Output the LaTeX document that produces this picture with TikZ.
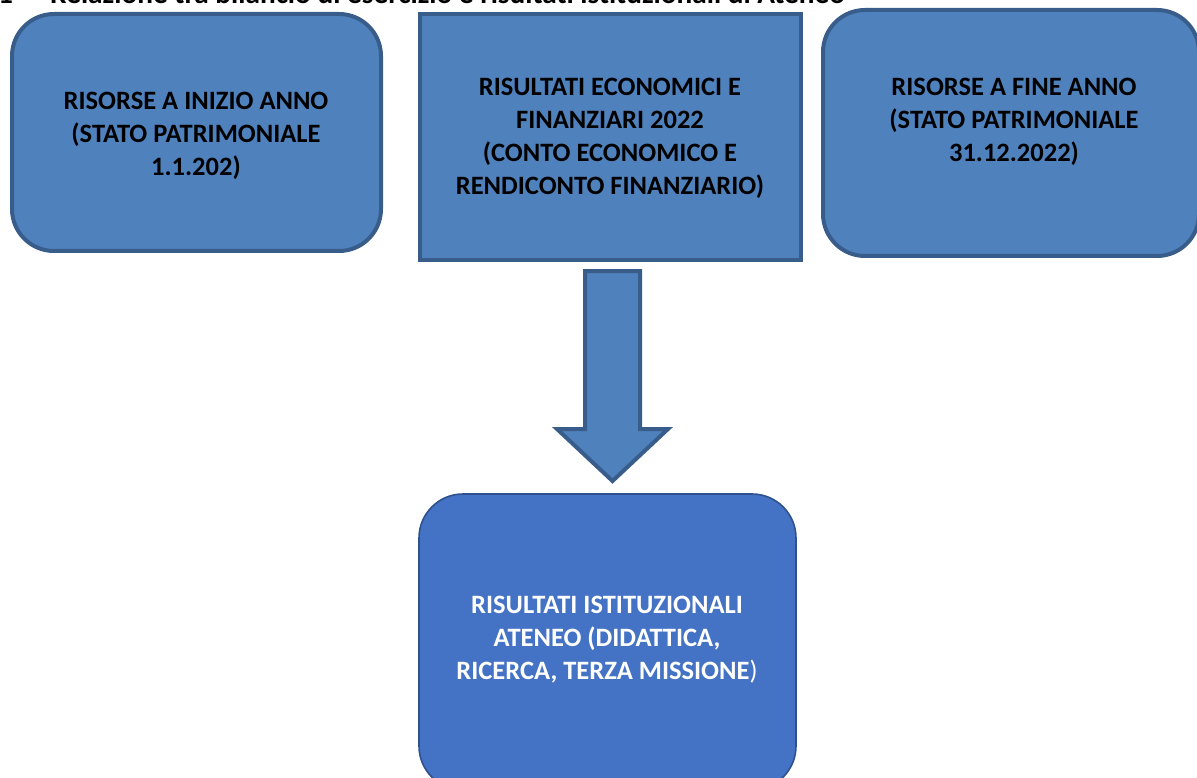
\documentclass[tikz,border=0pt]{standalone}
\usepackage{fontspec}
\setmainfont{Carlito}
\definecolor{boxfill}{HTML}{4F81BD}
\definecolor{boxline}{HTML}{385D8A}
\definecolor{resfill}{HTML}{4472C4}
\definecolor{resline}{HTML}{2F528F}
\begin{document}
\begin{tikzpicture}[x=1pt,y=-1pt,
  topbox/.style={draw=boxline, fill=boxfill, line width=4pt, inner sep=0pt},
  resbox/.style={draw=resline, fill=resfill, line width=1.6pt, inner sep=0pt, rounded corners=44pt},
  boxtext/.style={align=center, font=\bfseries\fontsize{26.5}{33}\selectfont, inner sep=0pt},
  titletext/.style={anchor=base west, font=\bfseries\fontsize{29.3}{34}\selectfont, inner sep=0pt},
  blockarrow/.style={draw=boxline, fill=boxfill, line width=4pt, line join=miter}]
\useasboundingbox (0,0) rectangle (1197,778);
\clip (0,0) rectangle (1197,778);
% title (cut off at top, as in the reference)
\node[titletext] (num) at (-2,3.5) {1};
\node[titletext] (title) at (50,3.5) {Relazione tra bilancio di esercizio e risultati istituzionali di Ateneo};
% boxes
\node[topbox, rounded corners=42pt, minimum width=369pt, minimum height=237pt] (inizio) at (196.5,132.5) {};
\node[topbox, minimum width=381pt, minimum height=246pt] (risecon) at (610.5,137) {};
\node[topbox, rounded corners=42pt, minimum width=376pt, minimum height=246pt] (fine) at (1011,133) {};
\node[resbox, minimum width=377pt, minimum height=296pt] (istit) at (607.5,642) {};
% texts
\node[boxtext] (tinizio) at (196,136) {RISORSE A INIZIO ANNO\\(STATO PATRIMONIALE\\1.1.202)};
\node[boxtext] (trisecon) at (610,138.5) {RISULTATI ECONOMICI E\\FINANZIARI 2022\\(CONTO ECONOMICO E\\RENDICONTO FINANZIARIO)};
\node[boxtext] (tfine) at (1014,122) {RISORSE A FINE ANNO\\(STATO PATRIMONIALE\\31.12.2022)};
\node[boxtext, text=white] (tistit) at (607,640) {RISULTATI ISTITUZIONALI\\ATENEO (DIDATTICA,\\RICERCA, TERZA MISSIONE\textmd{)}};
% block arrow
\coordinate (a1) at (585,271);
\coordinate (a2) at (640,271);
\coordinate (a3) at (640,429);
\coordinate (a4) at (668,429);
\coordinate (tip) at (612.5,481);
\coordinate (a6) at (557,429);
\coordinate (a7) at (585,429);
\draw[blockarrow] (a1) -- (a2) -- (a3) -- (a4) -- (tip) -- (a6) -- (a7) -- cycle;
\end{tikzpicture}
\end{document}
